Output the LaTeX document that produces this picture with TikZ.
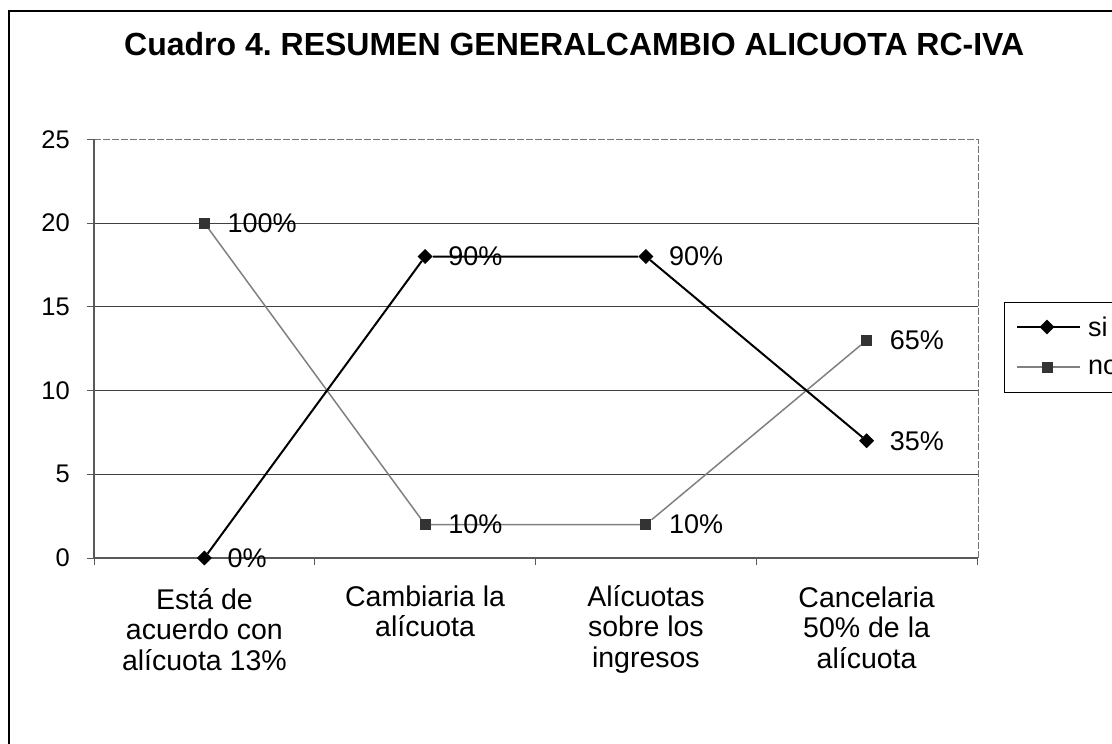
\documentclass[tikz,border=0pt]{standalone}
\usepackage{fontspec}
\setmainfont{Liberation Sans}
\usetikzlibrary{shapes.geometric}
\newcommand{\firststrut}{\rule{0pt}{22pt}}
\frenchspacing
\begin{document}
\begin{tikzpicture}[x=1pt,y=-1pt,
  gridline/.style={black!75, line width=1pt},
  borderline/.style={black!55, line width=1pt, dash pattern=on 7pt off 2pt},
  axisline/.style={black!65, line width=1.5pt},
  siline/.style={black, line width=2pt},
  noline/.style={black!50, line width=1.5pt},
  simark/.style={diamond, fill=black, inner sep=0pt, minimum width=15pt, minimum height=15pt},
  nomark/.style={rectangle, fill=black!80, inner sep=0pt, minimum size=11pt},
  dlabel/.style={anchor=west, font=\fontsize{27}{30}\selectfont, inner sep=0pt},
  ticklabel/.style={anchor=east, font=\fontsize{25.5}{30}\selectfont, inner sep=0pt},
  catlabel/.style={anchor=north, align=center, font=\fontsize{28.5}{30.5}\selectfont, inner sep=0pt},
  titlestyle/.style={anchor=base west, font=\fontsize{32}{38}\selectfont\bfseries, inner sep=0pt},
  legtext/.style={anchor=west, font=\fontsize{27}{30}\selectfont, inner sep=0pt}
]
\useasboundingbox (0,0) rectangle (1112,744);
\clip (0,0) rectangle (1112,744);
% outer chart frame
\draw[black, line width=1.5pt] (9,770) -- (9,11) -- (1140,11);
% title
\node[titlestyle] (title) at (124,56) {Cuadro 4. RESUMEN GENERALCAMBIO ALICUOTA RC-IVA};
% gridlines
\foreach \yy in {474.25,390.5,306.75,223}{
  \draw[gridline] (94,\yy) -- (978,\yy);
}
\draw[borderline] (94,139.25) -- (978,139.25) -- (978,558);
% axes
\draw[axisline] (94,139.25) -- (94,558) -- (978,558);
\foreach \yy in {139.25,223,306.75,390.5,474.25,558}{
  \draw[axisline, line width=1pt] (87,\yy) -- (94,\yy);
}
\foreach \xx in {94,314.75,535.5,756.25,977}{
  \draw[axisline, line width=1pt] (\xx,558) -- (\xx,565);
}
% tick labels
\node[ticklabel] (t25) at (70,139.25) {25};
\node[ticklabel] (t20) at (70,223) {20};
\node[ticklabel] (t15) at (70,306.75) {15};
\node[ticklabel] (t10) at (70,390.5) {10};
\node[ticklabel] (t5) at (70,474.25) {5};
\node[ticklabel] (t0) at (70,558) {0};
% category labels
\node[catlabel] (c1) at (204.4,587) {\firststrut Está de\\acuerdo con\\alícuota 13\%};
\node[catlabel] (c2) at (425.1,584) {\firststrut Cambiaria la\\alícuota};
\node[catlabel] (c3) at (645.9,584) {\firststrut Alícuotas\\sobre los\\ingresos};
\node[catlabel] (c4) at (866.6,585) {\firststrut Cancelaria\\50\% de la\\alícuota};
% series "no"
\node[nomark] (n1) at (204.4,223) {};
\node[nomark] (n2) at (425.1,524.5) {};
\node[nomark] (n3) at (645.9,524.5) {};
\node[nomark] (n4) at (866.6,340.25) {};
\draw[noline] (n1) -- (n2) -- (n3) -- (n4);
% series "si"
\node[simark] (s1) at (204.4,558) {};
\node[simark] (s2) at (425.1,256.5) {};
\node[simark] (s3) at (645.9,256.5) {};
\node[simark] (s4) at (866.6,440.75) {};
\draw[siline] (s1) -- (s2) -- (s3) -- (s4);
% data labels
\node[dlabel] (ln1) at (227.4,223) {100\%};
\node[dlabel] (ln2) at (448.1,524.5) {10\%};
\node[dlabel] (ln3) at (668.9,524.5) {10\%};
\node[dlabel] (ln4) at (889.6,340.25) {65\%};
\node[dlabel] (ls1) at (227.4,558) {0\%};
\node[dlabel] (ls2) at (448.1,256.5) {90\%};
\node[dlabel] (ls3) at (668.9,256.5) {90\%};
\node[dlabel] (ls4) at (889.6,440.75) {35\%};
% legend
\draw[black, line width=1pt] (1004,392) -- (1004,302) -- (1140,302);
\coordinate (lsa) at (1017,327);
\coordinate (lsb) at (1080,327);
\coordinate (lna) at (1017,367);
\coordinate (lnb) at (1080,367);
\draw[siline] (lsa) -- (lsb);
\node[simark] (lsm) at (1047,327) {};
\node[legtext] (lst) at (1088,327) {si};
\draw[noline] (lna) -- (lnb);
\node[nomark] (lnm) at (1047,367) {};
\node[legtext] (lnt) at (1088,367) {no};
\draw[black, line width=1pt] (1004,392) -- (1140,392);
\end{tikzpicture}
\end{document}
